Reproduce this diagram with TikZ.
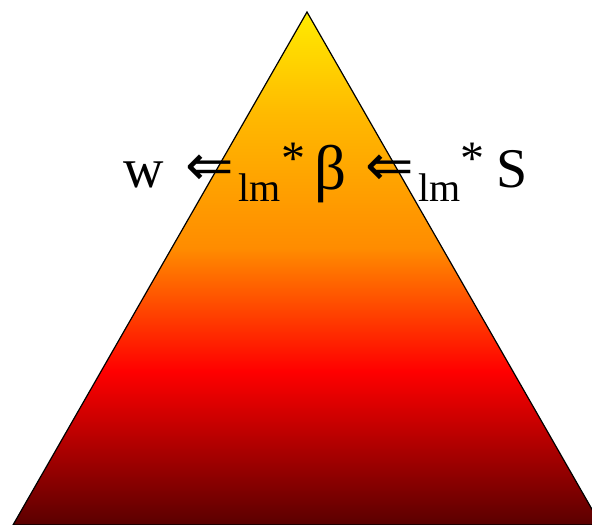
\documentclass[tikz,border=0pt]{standalone}
\usepackage{fontspec}
\setmainfont{Liberation Serif}
\newfontfamily\arrowfont{DejaVu Sans}
\definecolor{yel}{RGB}{255,235,0}
\definecolor{amb}{RGB}{255,185,0}
\definecolor{org}{RGB}{255,140,0}
\definecolor{rd}{RGB}{255,0,0}
\definecolor{drk}{RGB}{90,0,0}
\pgfdeclareverticalshading{trishade}{100bp}{color(0bp)=(drk); color(25bp)=(drk); color(40bp)=(rd); color(52bp)=(org); color(65bp)=(amb); color(75bp)=(yel); color(100bp)=(yel)}
\tikzset{
  big/.style={inner sep=0pt, anchor=base west, font=\fontsize{56}{60}\selectfont},
  greek/.style={inner sep=0pt, anchor=base west, font=\fontsize{63}{66}\selectfont},
  arr/.style={inner sep=0pt, anchor=base west, font=\arrowfont\fontsize{58}{60}\selectfont},
  small/.style={inner sep=0pt, anchor=base west, font=\fontsize{40}{44}\selectfont},
  star/.style={inner sep=0pt, anchor=base west, font=\fontsize{48}{50}\selectfont}
}
\begin{document}
\begin{tikzpicture}[x=1pt,y=1pt]
\useasboundingbox (0,0) rectangle (592,525);
\begin{scope}
\clip (0,0) rectangle (592,525);
\path[shading=trishade, draw=black, line width=1.2pt] (307,513) -- (601,0) -- (13,0) -- cycle;
\end{scope}
\node[big] (w) at (123,337) {w};
\node[arr] (a1) at (185,339) {⇐};
\node[small] (lm1) at (238,323) {lm};
\node[star] (s1) at (281,350) {*};
\node[greek] (beta) at (314,335) {β};
\node[arr] (a2) at (365,339) {⇐};
\node[small] (lm2) at (418,323) {lm};
\node[star] (s2) at (460,350) {*};
\node[big] (S) at (496,337) {S};
\end{tikzpicture}
\end{document}
